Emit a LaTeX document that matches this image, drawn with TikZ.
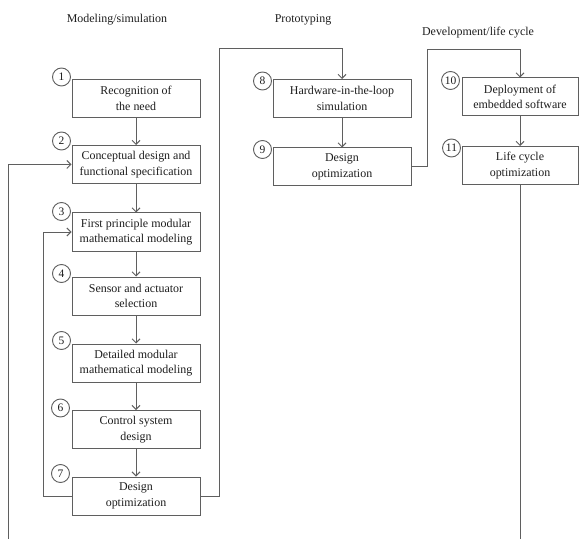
\documentclass[tikz,border=0pt]{standalone}
\usepackage{fontspec}
\setmainfont{Liberation Serif}
\usetikzlibrary{arrows.meta}
\definecolor{linegray}{RGB}{95,95,95}
\definecolor{txtgray}{RGB}{30,30,30}
\begin{document}
\begin{tikzpicture}[x=1bp,y=-1bp,>={Straight Barb[length=4bp,width=8bp]},
  box/.style={draw=linegray,line width=1bp,fill=white,align=center,text=txtgray,
    font=\fontsize{12}{15.5}\selectfont,inner sep=0pt,minimum height=38bp},
  num/.style={circle,draw=linegray,line width=0.9bp,fill=white,inner sep=0pt,
    minimum size=18bp,text=txtgray,font=\fontsize{11.5}{12}\selectfont},
  title/.style={text=txtgray,font=\fontsize{12}{14}\selectfont},
  link/.style={draw=linegray,line width=1bp}]
  \useasboundingbox (0,0) rectangle (579,539);
  \node[title] (t1) at (117,20) {Modeling/simulation};
  \node[title] (t2) at (303,20) {Prototyping};
  \node[title] (t3) at (478,33) {Development/life cycle};
  \node[box,minimum width=128bp] (b1) at (136,98.5) {Recognition of\\the need};
  \node[box,minimum width=128bp] (b2) at (136,164.5) {Conceptual design and\\functional specification};
  \node[box,minimum width=128bp] (b3) at (136,232) {First principle modular\\mathematical modeling};
  \node[box,minimum width=128bp] (b4) at (136,296) {Sensor and actuator\\selection};
  \node[box,minimum width=128bp] (b5) at (136,363) {Detailed modular\\mathematical modeling};
  \node[box,minimum width=128bp] (b6) at (136,429.5) {Control system\\design};
  \node[box,minimum width=128bp] (b7) at (136,496) {Design\\optimization};
  \node[box,minimum width=138bp] (b8) at (342,98.5) {Hardware-in-the-loop\\simulation};
  \node[box,minimum width=138bp] (b9) at (342,167) {Design\\optimization};
  \node[box,minimum width=116bp] (b10) at (520,97) {Deployment of\\embedded software};
  \node[box,minimum width=116bp] (b11) at (520,165.5) {Life cycle\\optimization};
  \node[num] (n1) at ([shift={(-10,-2)}]b1.north west) {1};
  \node[num] (n2) at ([shift={(-10,-4)}]b2.north west) {2};
  \node[num] (n3) at ([shift={(-10,-1)}]b3.north west) {3};
  \node[num] (n4) at ([shift={(-10,-3)}]b4.north west) {4};
  \node[num] (n5) at ([shift={(-10,-3)}]b5.north west) {5};
  \node[num] (n6) at ([shift={(-11,-2)}]b6.north west) {6};
  \node[num] (n7) at ([shift={(-11,-3)}]b7.north west) {7};
  \node[num] (n8) at ([shift={(-10,2)}]b8.north west) {8};
  \node[num] (n9) at ([shift={(-10,2)}]b9.north west) {9};
  \node[num] (n10) at ([shift={(-11,3)}]b10.north west) {10};
  \node[num] (n11) at ([shift={(-10,2)}]b11.north west) {11};
  \coordinate (outer) at (8,539);
  \coordinate (top1) at (219,49);
  \coordinate (top2) at (427,50);
  \coordinate (bottom) at (520,539);
  \draw[link,->] (b1) -- (b2);
  \draw[link,->] (b2) -- (b3);
  \draw[link,->] (b3) -- (b4);
  \draw[link,->] (b4) -- (b5);
  \draw[link,->] (b5) -- (b6);
  \draw[link,->] (b6) -- (b7);
  \draw[link,->] (b8) -- (b9);
  \draw[link,->] (b10) -- (b11);
  \draw[link,->] (outer) |- (b2.west);
  \draw[link,->] (b7.west) -- ++(-28,0) |- (b3.west);
  \draw[link,->] (b7.east) -| (top1) -| (b8.north);
  \draw[link,->] (b9.east) -| (top2) -| (b10.north);
  \draw[link] (b11) -- (bottom);
\end{tikzpicture}
\end{document}
